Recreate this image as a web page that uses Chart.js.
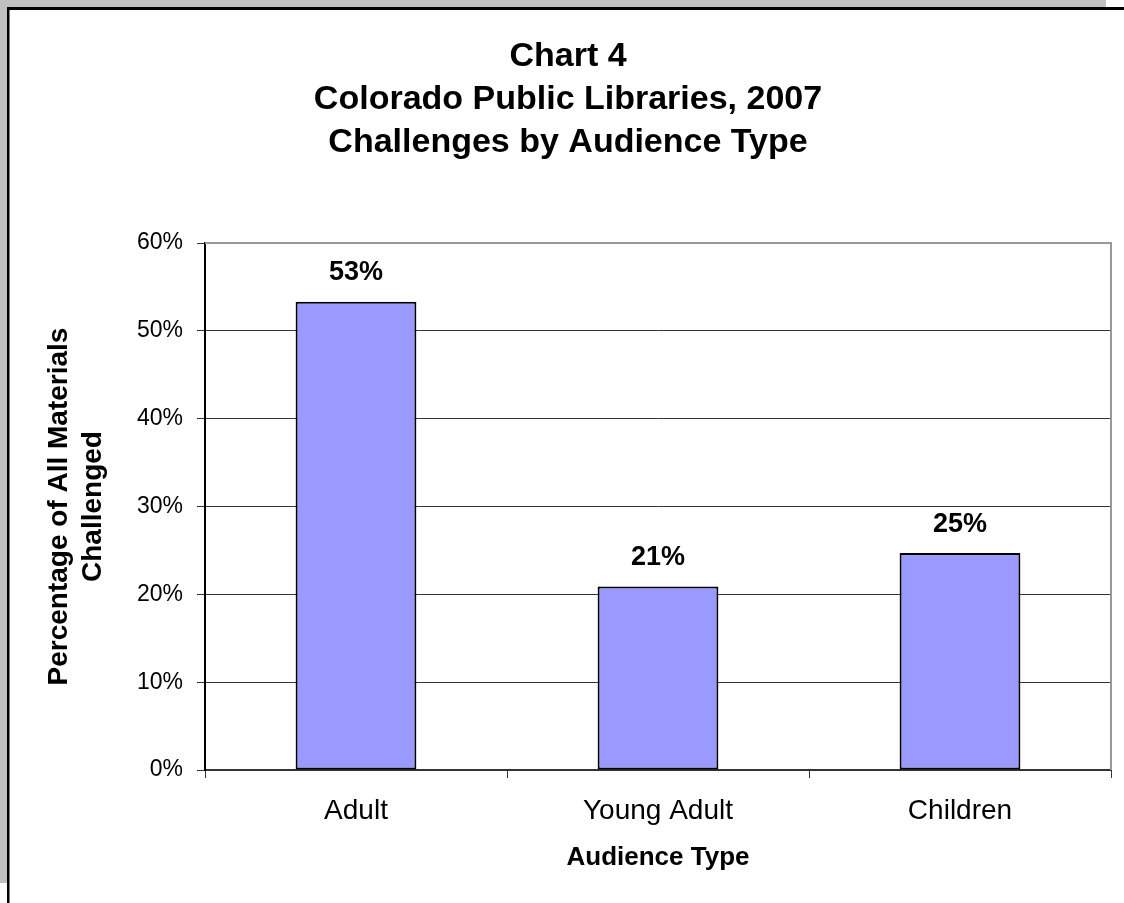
<!DOCTYPE html>
<html>
<head>
<meta charset="utf-8">
<title>Chart 4 - Challenges by Audience Type</title>
<script src="https://cdn.jsdelivr.net/npm/chart.js@4/dist/chart.umd.min.js"></script>
<style>
    html, body { margin: 0; padding: 0; background: #fff; }
    #wrap { width: 1124px; height: 903px; }
</style>
</head>
<body>
<div id="wrap"><canvas id="chart" width="1124" height="903"></canvas></div>
<script>
// Data
const categories = ['Adult', 'Young Adult', 'Children'];
const shares = [53.3, 20.9, 24.7];
const yTicks = [0, 10, 20, 30, 40, 50, 60];
const titleLines = ['Chart 4', 'Colorado Public Libraries, 2007', 'Challenges by Audience Type'];
const yTitleLines = ['Percentage of All Materials', 'Challenged'];
const xTitle = 'Audience Type';

const FONT = '"Liberation Sans", Arial, Helvetica, sans-serif';

// Gray page edge with black frame, like the pasted chart object
const framePlugin = {
    id: 'frame',
    beforeDraw(chart) {
        const { ctx, width, height } = chart;
        ctx.save();
        ctx.fillStyle = '#c0c0c0';
        ctx.fillRect(0, 0, width, height);
        ctx.fillStyle = '#fff';
        ctx.fillRect(1106, 0, width - 1106, 8);
        ctx.fillRect(0, 883, 8, height - 883);
        ctx.fillRect(10, 10, width - 10, height - 10);
        ctx.fillStyle = '#000';
        ctx.fillRect(7, 7, width - 7, 3);
        ctx.fillRect(7, 7, 2, height - 7);
        ctx.fillStyle = '#808080';
        ctx.fillRect(9, 10, 1, height - 10);
        ctx.restore();
    }
};

// Gray plot-area border on top and right
const plotBorder = {
    id: 'plotBorder',
    beforeDatasetsDraw(chart) {
        const { ctx, chartArea: a } = chart;
        ctx.save();
        ctx.strokeStyle = '#999';
        ctx.lineWidth = 2;
        ctx.beginPath();
        ctx.moveTo(a.left, a.top);
        ctx.lineTo(a.right, a.top);
        ctx.lineTo(a.right, a.bottom);
        ctx.stroke();
        ctx.restore();
    }
};

// Value labels above the bars
const valueLabels = {
    id: 'valueLabels',
    afterDatasetsDraw(chart) {
        const { ctx } = chart;
        const meta = chart.getDatasetMeta(0);
        ctx.save();
        ctx.font = `bold 27px ${FONT}`;
        ctx.fillStyle = '#000';
        ctx.textAlign = 'center';
        ctx.textBaseline = 'middle';
        meta.data.forEach((bar, i) => {
            ctx.fillText(Math.round(shares[i]) + '%', bar.x, bar.y - 29);
        });
        ctx.restore();
    }
};

new Chart(document.getElementById('chart').getContext('2d'), {
    type: 'bar',
    data: {
        labels: categories,
        datasets: [{
            data: shares,
            backgroundColor: '#9999ff',
            borderColor: '#000',
            borderWidth: 2,
            borderSkipped: false,
            barPercentage: 0.4,
            categoryPercentage: 1.0
        }]
    },
    options: {
        responsive: false,
        animation: false,
        devicePixelRatio: 1,
        layout: { padding: { left: 25, right: 13, top: 0, bottom: 0 } },
        plugins: {
            legend: { display: false },
            tooltip: { enabled: false },
            title: {
                display: true,
                text: titleLines,
                color: '#000',
                font: { family: FONT, size: 34, weight: 'bold', lineHeight: 1.265 },
                padding: { top: 35.5, bottom: 78.5 }
            }
        },
        scales: {
            x: {
                grid: { display: true, drawOnChartArea: false, drawTicks: true, tickLength: 8, color: '#333', offset: true },
                border: { color: '#333', width: 2 },
                ticks: { color: '#000', font: { family: FONT, size: 28 }, padding: 16 },
                title: {
                    display: true,
                    text: xTitle,
                    color: '#000',
                    font: { family: FONT, size: 26, weight: 'bold', lineHeight: 1.2 },
                    padding: { top: 0, bottom: 30 }
                },
                afterFit: s => { s.height = 133; }
            },
            y: {
                min: 0,
                max: 60,
                afterBuildTicks: s => { s.ticks = yTicks.map(v => ({ value: v })); },
                grid: { color: '#333', lineWidth: 1, drawTicks: true, tickLength: 8 },
                border: { color: '#000', width: 2 },
                ticks: { color: '#000', font: { family: FONT, size: 23 }, padding: 14, callback: v => v + '%' },
                title: {
                    display: true,
                    text: yTitleLines,
                    color: '#000',
                    font: { family: FONT, size: 28, weight: 'bold', lineHeight: 1.22 },
                    padding: { top: 17, bottom: 0 }
                },
                afterFit: s => { s.width = 180; }
            }
        }
    },
    plugins: [framePlugin, plotBorder, valueLabels]
});
</script>
</body>
</html>
